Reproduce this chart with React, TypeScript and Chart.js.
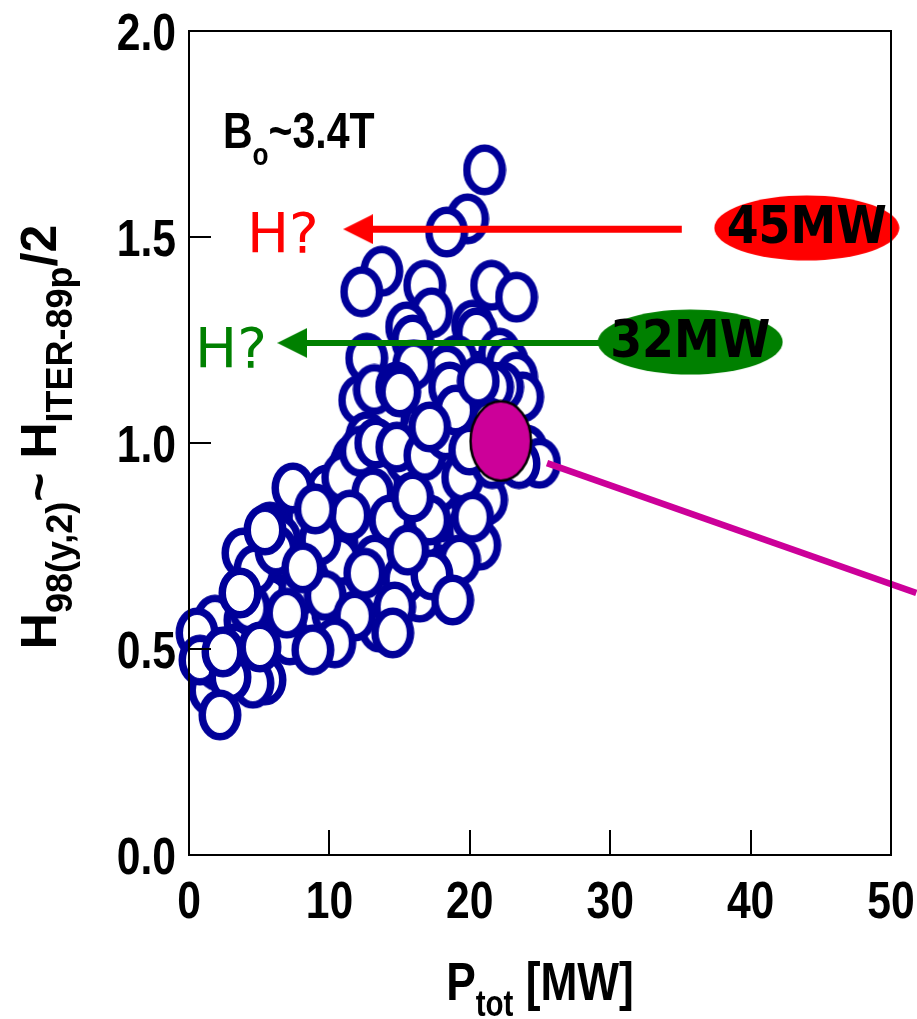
import React, { useEffect, useRef } from "react";
import { Chart, registerables } from "chart.js";

Chart.register(...registerables);

// ---- axis ticks ----
const X_TICKS = [0, 10, 20, 30, 40, 50];
const Y_TICKS = [0, 0.5, 1.0, 1.5, 2.0];

// ---- discharges: P_tot [MW] and H98(y,2) ----
const dischargeP = [
  21.05, 19.84, 18.35, 13.73, 12.30, 16.79, 21.55, 23.33, 17.28, 20.20,
  15.50, 15.93, 20.48, 12.66, 17.35, 19.06, 18.35, 22.12, 22.69, 23.33,
  23.76, 22.33, 12.16, 21.62, 14.30, 17.14, 18.56, 21.41, 14.08, 12.66,
  24.04, 24.96, 11.66, 11.45, 12.87, 13.80, 18.78, 20.70, 21.19, 13.58,
  9.82, 7.68, 8.39, 5.76, 7.40, 17.85, 19.84, 20.70, 12.66, 10.53,
  10.74, 6.97, 3.84, 10.95, 13.09, 16.43, 17.85, 19.49, 15.50, 11.45,
  9.32, 14.30, 13.23, 16.43, 18.21, 19.27, 1.85, 3.98, 5.76, 7.89,
  5.41, 3.63, 7.18, 1.49, 4.69, 6.47, 16.43, 13.58, 10.95, 10.24,
  12.20, 13.30, 14.80, 16.80, 18.30, 19.00, 16.00, 13.20, 20.60, 9.00,
  6.20, 4.30, 2.00, 3.20, 9.70, 11.80, 15.30, 17.30, 21.60, 23.50,
  6.97, 0.57, 0.78, 4.55, 2.92, 2.20, 5.41, 20.20, 17.14, 19.99,
  14.79, 15.01, 17.14, 15.93, 15.58, 12.52, 8.11, 14.65, 18.78, 14.51,
  10.38, 8.82, 3.63, 5.05, 2.42,
];
const dischargeH = [
  1.663, 1.544, 1.512, 1.417, 1.367, 1.383, 1.383, 1.354, 1.316, 1.286,
  1.282, 1.250, 1.267, 1.206, 1.160, 1.201, 1.177, 1.218, 1.194, 1.160,
  1.112, 1.136, 1.104, 1.136, 1.080, 1.104, 1.136, 1.049, 1.063, 1.015,
  0.983, 0.951, 0.959, 0.942, 0.917, 0.917, 0.942, 0.903, 0.862, 0.903,
  0.886, 0.869, 0.818, 0.796, 0.891, 0.820, 0.789, 0.752, 0.782, 0.757,
  0.716, 0.723, 0.733, 0.917, 0.879, 0.927, 0.893, 0.917, 0.959, 0.825,
  0.765, 0.813, 0.716, 0.752, 0.692, 0.716, 0.570, 0.570, 0.619, 0.643,
  0.425, 0.461, 0.522, 0.400, 0.692, 0.765, 0.626, 0.553, 0.612, 0.587,
  0.980, 1.000, 0.990, 0.970, 1.020, 1.080, 1.190, 1.130, 1.150, 0.840,
  0.740, 0.600, 0.460, 0.500, 0.630, 0.580, 0.670, 0.680, 0.950, 0.950,
  0.587, 0.539, 0.473, 0.417, 0.432, 0.340, 0.789, 0.820, 0.813, 0.983,
  1.136, 1.124, 1.039, 0.869, 0.740, 0.684, 0.697, 0.602, 0.619, 0.539,
  0.515, 0.498, 0.636, 0.505, 0.493,
];

// ---- highlighted operating point and its extrapolation ----
const jetP = [22.2];
const jetH = [1.005];
const extrapolationP = [25.5, 51.8];
const extrapolationH = [0.951, 0.636];

// ---- arrows towards the H axis ----
const arrow45P = [35.1, 12.05];
const arrow45H = [1.519, 1.519];
const arrow32P = [29.3, 7.35];
const arrow32H = [1.243, 1.243];

// ---- power labels ----
const powerLabels = ["45MW", "32MW"];
const powerLabelP = [44.0, 35.7];
const powerLabelH = [1.522, 1.245];

// ---- annotation anchors (data units) ----
const fieldLabelAnchor = { p: 2.42, h: 1.716 };
const question45Anchor = { p: 4.13, h: 1.464 };
const question32Anchor = { p: 0.43, h: 1.184 };

const SANS = "'Liberation Sans', Arial, Helvetica, sans-serif";
const DEJAVU = "'DejaVu Sans', sans-serif";
const DEJAVU_COND = "'DejaVu Sans Condensed', 'DejaVu Sans', sans-serif";
const NARROW_X = 0.82; // horizontal compression for the narrow bold face

const BLUE = "#000099";
const MAGENTA = "#CC0099";
const RED = "#FF0000";
const GREEN = "#008000";

function makeEllipse(w: number, h: number, lw: number, fill: string, stroke: string) {
  const c = document.createElement("canvas");
  c.width = w;
  c.height = h;
  const g = c.getContext("2d")!;
  g.beginPath();
  g.ellipse(w / 2, h / 2, w / 2 - lw / 2 - 0.5, h / 2 - lw / 2 - 0.5, 0, 0, Math.PI * 2);
  g.fillStyle = fill;
  g.fill();
  if (lw > 0) {
    g.lineWidth = lw;
    g.strokeStyle = stroke;
    g.stroke();
  }
  return c;
}

function makeArrowHead(w: number, h: number, color: string) {
  const c = document.createElement("canvas");
  c.width = w;
  c.height = h;
  const g = c.getContext("2d")!;
  g.beginPath();
  g.moveTo(0, h / 2);
  g.lineTo(w, 0);
  g.lineTo(w, h);
  g.closePath();
  g.fillStyle = color;
  g.fill();
  return c;
}

type Run = { text: string; font: string; dy: number };

function runsWidth(ctx: CanvasRenderingContext2D, runs: Run[]) {
  let w = 0;
  for (const r of runs) {
    ctx.font = r.font;
    w += ctx.measureText(r.text).width;
  }
  return w;
}

function drawRuns(ctx: CanvasRenderingContext2D, x: number, y: number, runs: Run[]) {
  let cx = x;
  for (const r of runs) {
    ctx.font = r.font;
    ctx.fillText(r.text, cx, y + r.dy);
    cx += ctx.measureText(r.text).width;
  }
}

// narrow text: draw with horizontal compression around (x, y)
function narrowText(ctx: CanvasRenderingContext2D, text: string, x: number, y: number, font: string, align: CanvasTextAlign) {
  ctx.save();
  ctx.translate(x, y);
  ctx.scale(NARROW_X, 1);
  ctx.font = font;
  ctx.textAlign = align;
  ctx.fillText(text, 0, 0);
  ctx.restore();
}

function narrowRuns(ctx: CanvasRenderingContext2D, runs: Run[], x: number, y: number, center: boolean) {
  ctx.save();
  const w = runsWidth(ctx, runs);
  ctx.translate(x, y);
  ctx.scale(NARROW_X, 1);
  drawRuns(ctx, center ? -w / 2 : 0, 0, runs);
  ctx.restore();
}

const TICK_FONT = `bold 52px ${SANS}`;

const decorPlugin = {
  id: "decor",
  afterDatasetsDraw(chart: any) {
    const { ctx, chartArea: a } = chart;
    const xs = chart.scales.x;
    const ys = chart.scales.y;
    ctx.save();

    // labels inside the power ellipses
    const meta = chart.getDatasetMeta(0);
    ctx.fillStyle = "#000";
    ctx.textAlign = "center";
    ctx.textBaseline = "middle";
    ctx.font = `bold 51px ${DEJAVU_COND}`;
    meta.data.forEach((el: any, i: number) => {
      ctx.fillText(powerLabels[i], el.x, el.y + 2);
    });

    // frame
    ctx.strokeStyle = "#000";
    ctx.lineWidth = 2;
    ctx.strokeRect(a.left, a.top, a.right - a.left, a.bottom - a.top);
    // inner ticks
    ctx.beginPath();
    xs.ticks.forEach((t: any) => {
      const px = Math.round(xs.getPixelForValue(t.value));
      ctx.moveTo(px, a.bottom);
      ctx.lineTo(px, a.bottom - 25);
    });
    ys.ticks.forEach((t: any) => {
      const py = Math.round(ys.getPixelForValue(t.value));
      ctx.moveTo(a.left, py);
      ctx.lineTo(a.left + 22, py);
    });
    ctx.stroke();

    // tick labels (narrow bold) from the scales' own ticks
    ctx.fillStyle = "#000";
    ctx.textBaseline = "alphabetic";
    xs.ticks.forEach((t: any) => {
      narrowText(ctx, String(t.value), xs.getPixelForValue(t.value), a.bottom + 63, TICK_FONT, "center");
    });
    ys.ticks.forEach((t: any) => {
      narrowText(ctx, Number(t.value).toFixed(1), a.left - 13, ys.getPixelForValue(t.value) + 19, TICK_FONT, "right");
    });

    ctx.textAlign = "left";

    // B_o ~ 3.4T
    narrowRuns(
      ctx,
      [
        { text: "B", font: `bold 50px ${SANS}`, dy: 0 },
        { text: "o", font: `bold 32px ${SANS}`, dy: 17 },
        { text: "~3.4T", font: `bold 50px ${SANS}`, dy: 0 },
      ],
      xs.getPixelForValue(fieldLabelAnchor.p),
      ys.getPixelForValue(fieldLabelAnchor.h),
      false
    );

    // H? labels
    ctx.font = `56px ${DEJAVU}`;
    ctx.fillStyle = RED;
    ctx.fillText("H?", xs.getPixelForValue(question45Anchor.p), ys.getPixelForValue(question45Anchor.h));
    ctx.fillStyle = GREEN;
    ctx.fillText("H?", xs.getPixelForValue(question32Anchor.p), ys.getPixelForValue(question32Anchor.h));

    // x title
    ctx.fillStyle = "#000";
    narrowRuns(
      ctx,
      [
        { text: "P", font: `bold 54px ${SANS}`, dy: 0 },
        { text: "tot", font: `bold 36px ${SANS}`, dy: 16 },
        { text: " [MW]", font: `bold 54px ${SANS}`, dy: 0 },
      ],
      (a.left + a.right) / 2,
      1000,
      true
    );

    // y title (rotated)
    const yRuns: Run[] = [
      { text: "H", font: `bold 50px ${SANS}`, dy: 0 },
      { text: "98(y,2)", font: `bold 36px ${SANS}`, dy: 16 },
      { text: "~", font: `bold 50px ${SANS}`, dy: 0 },
      { text: " H", font: `bold 50px ${SANS}`, dy: 0 },
      { text: "ITER-89p", font: `bold 36px ${SANS}`, dy: 16 },
      { text: "/2", font: `bold 50px ${SANS}`, dy: 0 },
    ];
    const yw = runsWidth(ctx, yRuns);
    ctx.translate(56, 437);
    ctx.rotate(-Math.PI / 2);
    drawRuns(ctx, -yw / 2, 0, yRuns);

    ctx.restore();
  },
};

const pts = (px: number[], py: number[]) => px.map((p, i) => ({ x: p, y: py[i] }));

export default function App() {
  const ref = useRef<HTMLCanvasElement | null>(null);

  useEffect(() => {
    if (!ref.current) return;
    const blueRing = makeEllipse(44, 52, 7.5, "#FFFFFF", BLUE);
    const jetBlob = makeEllipse(64, 83, 2.5, MAGENTA, "#000000");
    const redOval = makeEllipse(186, 66, 0, RED, RED);
    const greenOval = makeEllipse(186, 66, 0, GREEN, GREEN);
    const redHead = makeArrowHead(30, 30, RED);
    const greenHead = makeArrowHead(30, 30, GREEN);

    const chart = new Chart(ref.current, {
      type: "scatter",
      data: {
        datasets: [
          {
            label: "power",
            data: pts(powerLabelP, powerLabelH),
            pointStyle: [redOval, greenOval] as any,
            pointRadius: 4,
            clip: false as any,
          },
          {
            label: "arrow45",
            data: pts(arrow45P, arrow45H),
            showLine: true,
            borderColor: RED,
            borderWidth: 7,
            borderCapStyle: "butt",
            pointRadius: [0, 4],
            pointStyle: redHead as any,
            clip: false as any,
          },
          {
            label: "arrow32",
            data: pts(arrow32P, arrow32H),
            showLine: true,
            borderColor: GREEN,
            borderWidth: 6,
            borderCapStyle: "butt",
            pointRadius: [0, 4],
            pointStyle: greenHead as any,
            clip: false as any,
          },
          {
            label: "jet",
            data: pts(jetP, jetH),
            pointStyle: jetBlob as any,
            pointRadius: 4,
            clip: false as any,
          },
          {
            label: "extrapolation",
            data: pts(extrapolationP, extrapolationH),
            showLine: true,
            borderColor: MAGENTA,
            borderWidth: 6.5,
            borderCapStyle: "butt",
            pointRadius: 0,
            clip: false as any,
          },
          {
            label: "discharges",
            data: pts(dischargeP, dischargeH),
            pointStyle: blueRing as any,
            pointRadius: 4,
            clip: false as any,
          },
        ],
      },
      options: {
        responsive: false,
        animation: false,
        devicePixelRatio: 1,
        events: [],
        layout: { padding: { left: 0, top: 31, right: 26, bottom: 0 } },
        plugins: { legend: { display: false }, tooltip: { enabled: false } },
        scales: {
          x: {
            type: "linear",
            min: X_TICKS[0],
            max: X_TICKS[X_TICKS.length - 1],
            grid: { display: false },
            border: { display: false },
            ticks: { stepSize: 10, display: false },
            afterFit: (s: any) => {
              s.height = 164;
            },
          },
          y: {
            type: "linear",
            min: Y_TICKS[0],
            max: Y_TICKS[Y_TICKS.length - 1],
            grid: { display: false },
            border: { display: false },
            ticks: { stepSize: 0.5, display: false },
            afterFit: (s: any) => {
              s.width = 189;
            },
          },
        },
      } as any,
      plugins: [decorPlugin],
    });
    return () => chart.destroy();
  }, []);

  return (
    <div style={{ position: "absolute", left: 0, top: 0, width: 917, height: 1019, background: "#fff" }}>
      <canvas ref={ref} width={917} height={1019} style={{ display: "block", width: 917, height: 1019 }} />
    </div>
  );
}
